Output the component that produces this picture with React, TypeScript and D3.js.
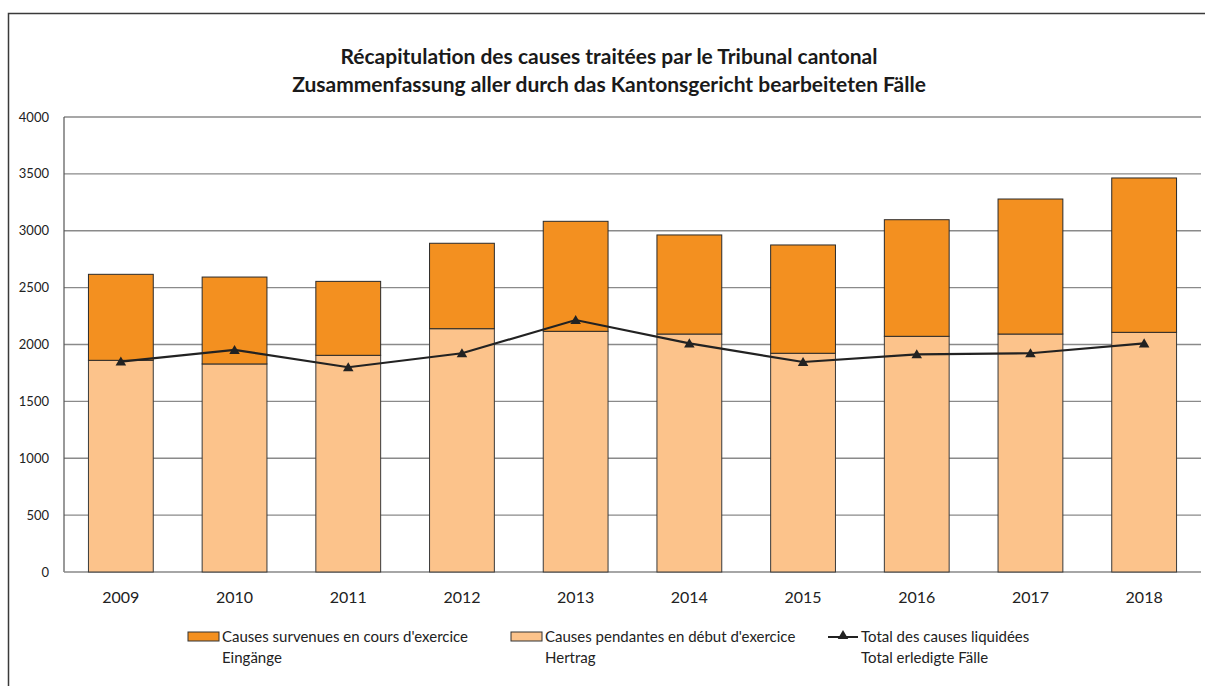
import React from "react";
import * as d3 from "d3";

const years = ["2009", "2010", "2011", "2012", "2013", "2014", "2015", "2016", "2017", "2018"];
const pendantes = [1861, 1829, 1905, 2139, 2116, 2092, 1923, 2072, 2092, 2107];
const survenues = [756, 764, 650, 751, 967, 871, 952, 1025, 1187, 1357];
const liquidees = [1850, 1952, 1800, 1923, 2215, 2010, 1846, 1914, 1923, 2010];
const yTicks = [0, 500, 1000, 1500, 2000, 2500, 3000, 3500, 4000];
const titleLines = [
  "Récapitulation des causes traitées par le Tribunal cantonal",
  "Zusammenfassung aller durch das Kantonsgericht bearbeiteten Fälle",
];

const W = 1205;
const H = 686;
const FONT = "Lato, 'Open Sans', sans-serif";
const DARK = "#F39020";
const LIGHT = "#FCC38B";

export default function App() {
  const left = 64;
  const right = 1201;
  const top = 117;
  const bottom = 572;
  const x = d3.scaleBand<string>().domain(years).range([left, right]).paddingInner(0.43).paddingOuter(0.215);
  const y = d3.scaleLinear().domain([0, 4000]).range([bottom, top]);
  const xc = (yr: string) => (x(yr) as number) + x.bandwidth() / 2;
  const line = d3
    .line<number>()
    .x((_, i) => xc(years[i]))
    .y((d) => y(d));
  const tri = d3.symbol().type(d3.symbolTriangle).size(48)();

  return (
    <svg width={W} height={H} style={{ position: "absolute", left: 0, top: 0 }} fontFamily={FONT}>
      <rect x={0} y={0} width={W} height={H} fill="#fff" />
      <path d={`M8.5,${H + 5} V13.5 H${W + 5}`} fill="none" stroke="#3a3a3a" strokeWidth={1.5} />
      {titleLines.map((t, i) => (
        <text key={i} x={609} y={64 + i * 28} textAnchor="middle" fontWeight="bold" fontSize={21} fill="#1a1a1a">
          {t}
        </text>
      ))}
      {yTicks.map((v) => (
        <g key={v}>
          {v > 0 && <line x1={left} x2={right} y1={y(v)} y2={y(v)} stroke="#8a8a8a" strokeWidth={1.3} />}
          <text x={49} y={y(v) + 4.5} textAnchor="end" fontSize={13} fill="#222">
            {v}
          </text>
        </g>
      ))}
      <line x1={left} x2={left} y1={top} y2={bottom} stroke="#555" strokeWidth={1.2} />
      <line x1={left} x2={right} y1={bottom} y2={bottom} stroke="#888" strokeWidth={1.3} />
      {years.map((yr, i) => (
        <g key={yr}>
          <rect
            x={x(yr)}
            y={y(pendantes[i])}
            width={x.bandwidth()}
            height={y(0) - y(pendantes[i])}
            fill={LIGHT}
            stroke="#3a3a3a"
            strokeWidth={1}
          />
          <rect
            x={x(yr)}
            y={y(pendantes[i] + survenues[i])}
            width={x.bandwidth()}
            height={y(pendantes[i]) - y(pendantes[i] + survenues[i])}
            fill={DARK}
            stroke="#2a2a2a"
            strokeWidth={1}
          />
          <text x={xc(yr)} y={603} textAnchor="middle" fontSize={16} fill="#222">
            {yr}
          </text>
        </g>
      ))}
      <path d={line(liquidees) || ""} fill="none" stroke="#222" strokeWidth={2.2} />
      {liquidees.map((v, i) => (
        <path key={i} d={tri || ""} transform={`translate(${xc(years[i])},${y(v) + 1})`} fill="#222" />
      ))}
      {/* Legend */}
      <g fontSize={15} fill="#222">
        <rect x={188} y={632} width={31} height={9} fill={DARK} stroke="#333" />
        <text x={222} y={642}>Causes survenues en cours d'exercice</text>
        <text x={222} y={663}>Eingänge</text>
        <rect x={511} y={632} width={31} height={9} fill={LIGHT} stroke="#333" />
        <text x={545} y={642}>Causes pendantes en début d'exercice</text>
        <text x={545} y={663}>Hertrag</text>
        <line x1={828} x2={858} y1={637} y2={637} stroke="#222" strokeWidth={2} />
        <path d={tri || ""} transform="translate(843,636)" fill="#222" />
        <text x={861} y={642}>Total des causes liquidées</text>
        <text x={861} y={663}>Total erledigte Fälle</text>
      </g>
    </svg>
  );
}
